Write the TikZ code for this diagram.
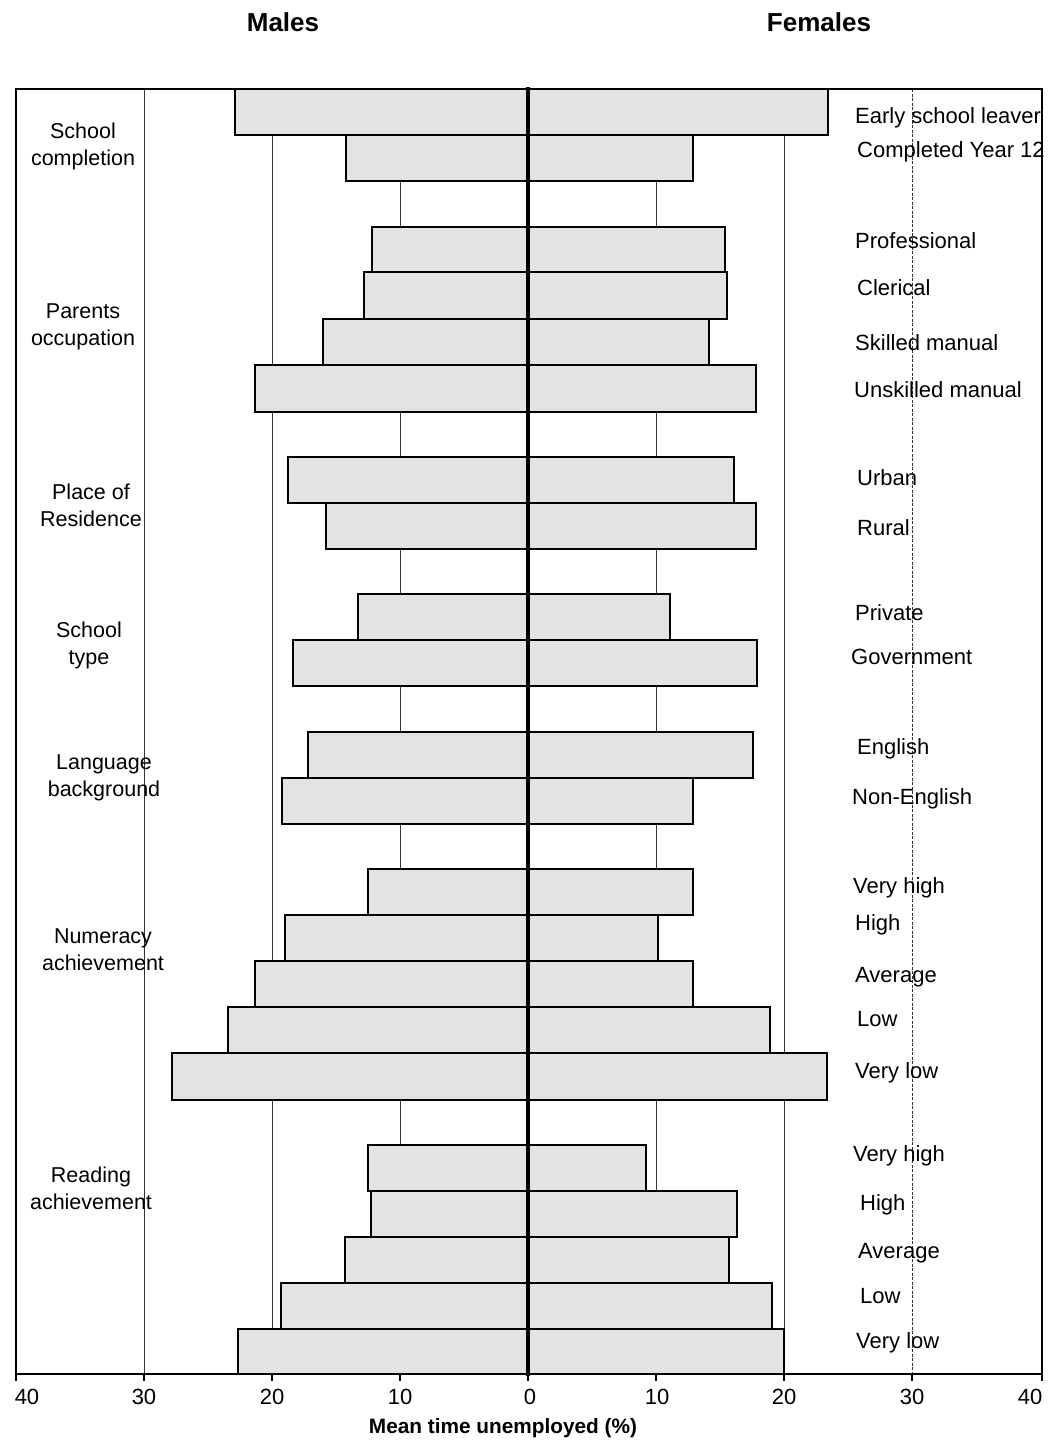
\documentclass[tikz,border=0pt]{standalone}
\usepackage{fontspec}
\setmainfont{Liberation Sans}
\begin{document}
\begin{tikzpicture}[x=1pt,y=-1pt,
  barbox/.style={draw=black,line width=2.8pt,fill=black!11},
  gridln/.style={line width=0.9pt,black!80},
  frameln/.style={line width=2.6pt},
  rlab/.style={anchor=base west,font=\fontsize{22}{27}\selectfont,inner sep=0pt},
  glab/.style={align=center,font=\fontsize{21.5}{27}\selectfont,inner sep=0pt},
  numlab/.style={font=\fontsize{22}{26}\selectfont,inner sep=0pt},
  ttl/.style={font=\fontsize{26}{30}\selectfont\bfseries,inner sep=0pt}]
\useasboundingbox (0,0) rectangle (1050,1443);
\fill[white] (0,0) rectangle (1050,1443);
% grid lines
\foreach \gx in {144,272,400,656,784} {\draw[gridln] (\gx,89) -- (\gx,1374);}
\draw[gridln,dash pattern=on 3pt off 1.5pt] (912,89) -- (912,1374);
% frame
\draw[frameln] (16,89) rectangle (1042,1374);
% ticks
\foreach \gx in {16,144,272,400,528,656,784,912,1042} {\draw[line width=1.5pt] (\gx,1374) -- (\gx,1381);}
% bars: y-top, y-bottom, male left, female right
\foreach \yt/\yb/\ml/\fr in {
  89/135/235/828, 135/181/346/693,
  227/272/372/725, 272/319/364/727, 319/365/323/709, 365/412/255/756,
  457/503/288/734, 503/549/326/756,
  594/640/358/670, 640/686/293/757,
  732/778/308/753, 778/824/282/693,
  869/915/368/693, 915/961/285/658, 961/1007/255/693, 1007/1053/228/770, 1053/1100/172/827,
  1145/1191/368/646, 1191/1237/371/737, 1237/1283/345/729, 1283/1329/281/772, 1329/1374/238/784} {
  \draw[barbox] (\ml,\yt) rectangle (528,\yb);
  \draw[barbox] (528,\yt) rectangle (\fr,\yb);
}
% centre axis
\draw[line width=4pt] (528,87) -- (528,1376);
% titles
\node[ttl] (tm) at (283,22) {Males};
\node[ttl] (tf) at (819,22) {Females};
% group labels
\node[glab] (g1) at (83,146) {School\\completion};
\node[glab] (g2) at (83,327) {Parents\\occupation};
\node[glab] (g3) at (91,505) {Place of\\Residence};
\node[glab] (g4) at (89,645) {School\\type};
\node[glab] (g5) at (104,778) {Language\\background};
\node[glab] (g6) at (103,950) {Numeracy\\achievement};
\node[glab] (g7) at (91,1188) {Reading\\achievement};
% right labels
\node[rlab] (r1) at (855,123) {Early school leaver};
\node[rlab] (r2) at (857,157) {Completed Year 12};
\node[rlab] (r3) at (855,248) {Professional};
\node[rlab] (r4) at (857,295) {Clerical};
\node[rlab] (r5) at (855,350) {Skilled manual};
\node[rlab] (r6) at (854,397) {Unskilled manual};
\node[rlab] (r7) at (857,485) {Urban};
\node[rlab] (r8) at (857,535) {Rural};
\node[rlab] (r9) at (855,620) {Private};
\node[rlab] (r10) at (851,664) {Government};
\node[rlab] (r11) at (857,754) {English};
\node[rlab] (r12) at (852,804) {Non-English};
\node[rlab] (r13) at (853,893) {Very high};
\node[rlab] (r14) at (855,930) {High};
\node[rlab] (r15) at (855,982) {Average};
\node[rlab] (r16) at (857,1026) {Low};
\node[rlab] (r17) at (855,1078) {Very low};
\node[rlab] (r18) at (853,1161) {Very high};
\node[rlab] (r19) at (860,1210) {High};
\node[rlab] (r20) at (858,1258) {Average};
\node[rlab] (r21) at (860,1303) {Low};
\node[rlab] (r22) at (856,1348) {Very low};
% axis numbers
\foreach \gx/\lab [count=\i] in {27/40,144/30,272/20,400/10,530/0,657/10,784/20,912/30,1030/40} {
  \node[numlab] (n\i) at (\gx,1397) {\lab};
}
\node[ttl,font=\fontsize{20.8}{24}\selectfont\bfseries] (xl) at (503,1428) {Mean time unemployed (\%)};
\end{tikzpicture}
\end{document}
